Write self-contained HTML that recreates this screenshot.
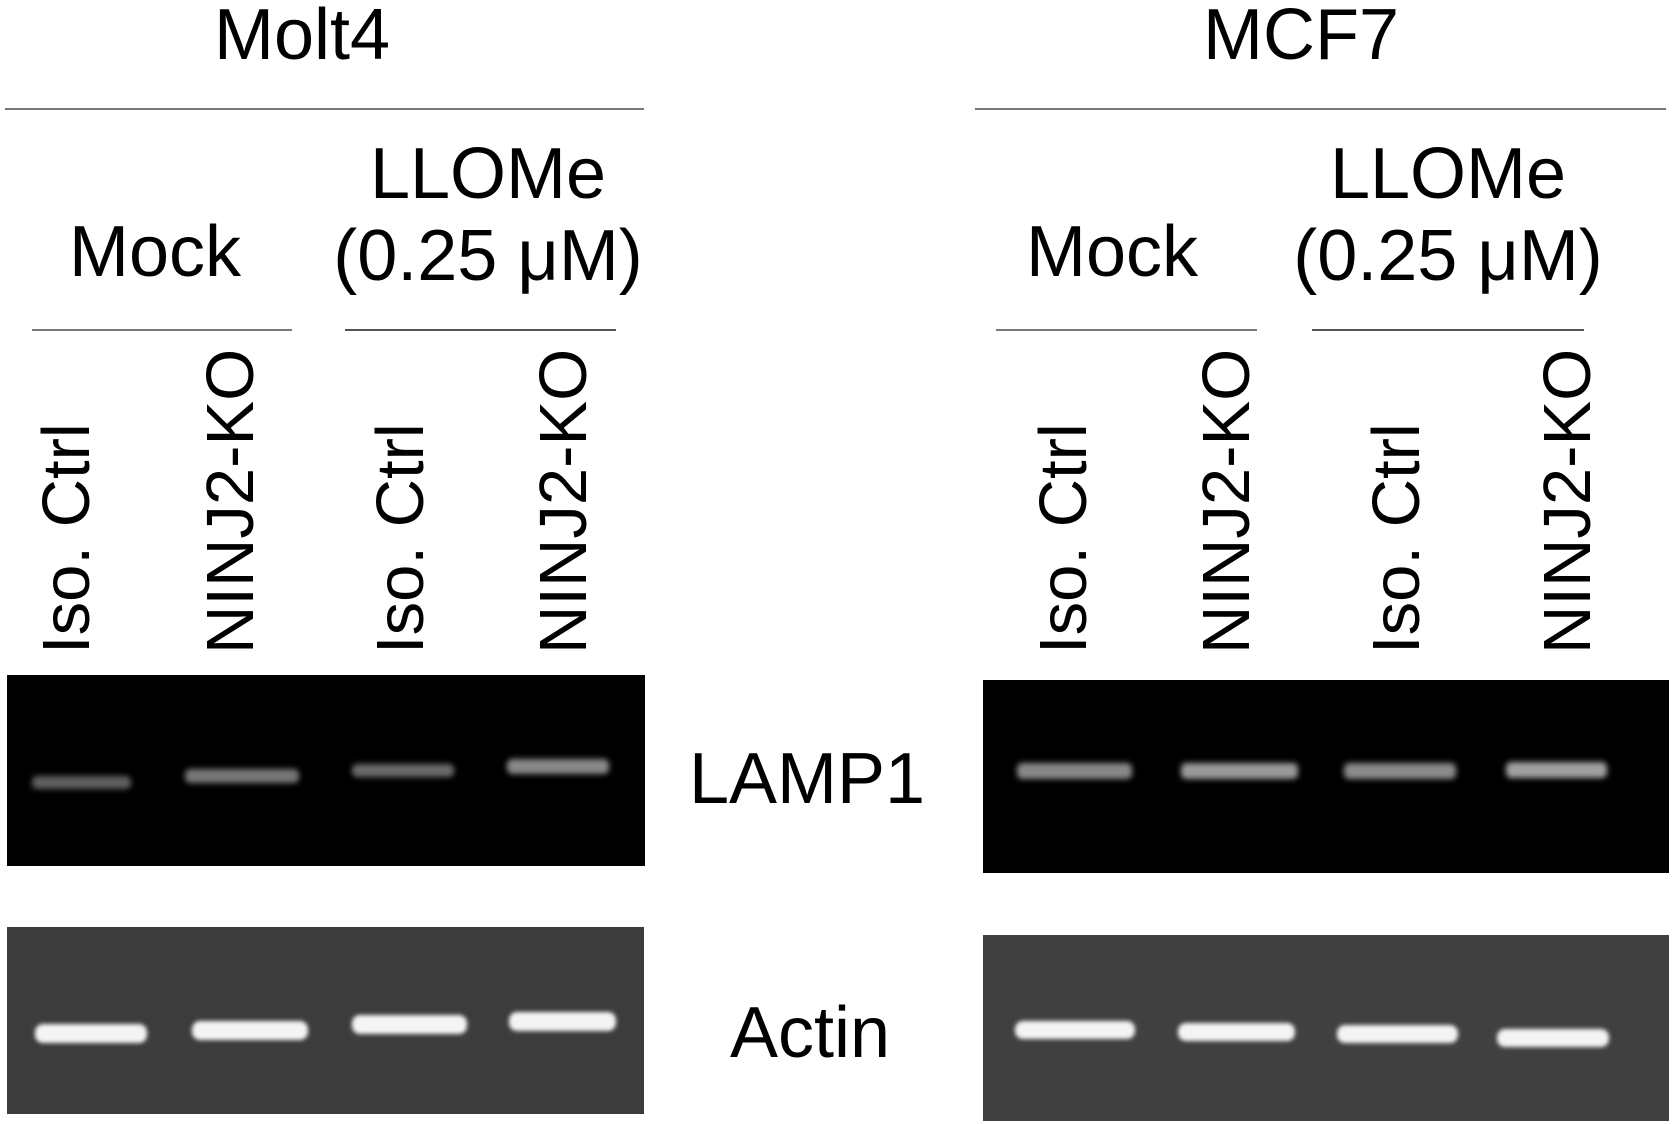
<!DOCTYPE html>
<html><head><meta charset="utf-8"><style>html,body{margin:0;padding:0;background:#fff}svg{display:block}</style></head><body>
<svg width="1673" height="1124" viewBox="0 0 1673 1124" xmlns="http://www.w3.org/2000/svg" font-family="Liberation Sans, Arial, sans-serif" fill="#000">
<defs>
<filter id="b1" x="-20%" y="-100%" width="140%" height="300%"><feGaussianBlur stdDeviation="3"/></filter>
<filter id="b2" x="-20%" y="-100%" width="140%" height="300%"><feGaussianBlur stdDeviation="2"/></filter>
</defs>
<g font-size="72" text-anchor="middle">
<text x="302" y="59">Molt4</text>
<text x="1301" y="59">MCF7</text>
<text x="155" y="276">Mock</text>
<text x="488" y="198">LLOMe</text>
<text x="488" y="280">(0.25 μM)</text>
<text x="1112" y="276">Mock</text>
<text x="1448" y="198">LLOMe</text>
<text x="1448" y="280">(0.25 μM)</text>
<text x="807" y="803">LAMP1</text>
<text x="810" y="1057">Actin</text>
</g>
<rect x="5" y="108" width="639" height="2" fill="#777"/>
<rect x="975" y="108" width="691" height="2" fill="#777"/>
<rect x="32" y="329" width="260" height="2" fill="#777"/>
<rect x="345" y="329" width="271" height="2" fill="#555"/>
<rect x="996" y="329" width="261" height="2" fill="#777"/>
<rect x="1312" y="329" width="272" height="2" fill="#555"/>
<g font-size="67">
<text transform="translate(89,654) rotate(-90)">Iso. Ctrl</text>
<text transform="translate(253,654) rotate(-90)">NINJ2-KO</text>
<text transform="translate(423,654) rotate(-90)">Iso. Ctrl</text>
<text transform="translate(586,654) rotate(-90)">NINJ2-KO</text>
<text transform="translate(1086,654) rotate(-90)">Iso. Ctrl</text>
<text transform="translate(1249,654) rotate(-90)">NINJ2-KO</text>
<text transform="translate(1419,654) rotate(-90)">Iso. Ctrl</text>
<text transform="translate(1590,654) rotate(-90)">NINJ2-KO</text>
</g>
<rect x="7" y="675" width="638" height="191" fill="#000"/>
<rect x="983" y="680" width="686" height="193" fill="#000"/>
<rect x="7" y="927" width="637" height="187" fill="#3c3c3c"/>
<rect x="983" y="935" width="686" height="186" fill="#404040"/>
<g fill="#777" filter="url(#b1)">
<rect x="32" y="776" width="99" height="13" rx="5" fill="#5e5e5e"/>
<rect x="185" y="769" width="114" height="14" rx="5"/>
<rect x="352" y="764" width="102" height="13" rx="5" fill="#6a6a6a"/>
<rect x="507" y="759" width="102" height="15" rx="5" fill="#888"/>
<rect x="1017" y="763" width="115" height="16" rx="5" fill="#888"/>
<rect x="1181" y="763" width="117" height="16" rx="5" fill="#999"/>
<rect x="1344" y="763" width="112" height="16" rx="5" fill="#8a8a8a"/>
<rect x="1506" y="762" width="101" height="16" rx="5" fill="#a0a0a0"/>
</g>
<g fill="#f4f4f4" filter="url(#b2)">
<rect x="35" y="1024" width="112" height="19" rx="8"/>
<rect x="192" y="1021" width="116" height="19" rx="8"/>
<rect x="352" y="1015" width="115" height="19" rx="8"/>
<rect x="509" y="1012" width="107" height="19" rx="8"/>
<rect x="1015" y="1021" width="120" height="18" rx="8"/>
<rect x="1178" y="1023" width="117" height="18" rx="8"/>
<rect x="1337" y="1025" width="121" height="18" rx="8"/>
<rect x="1497" y="1029" width="112" height="18" rx="8"/>
</g>
</svg>
</body></html>
